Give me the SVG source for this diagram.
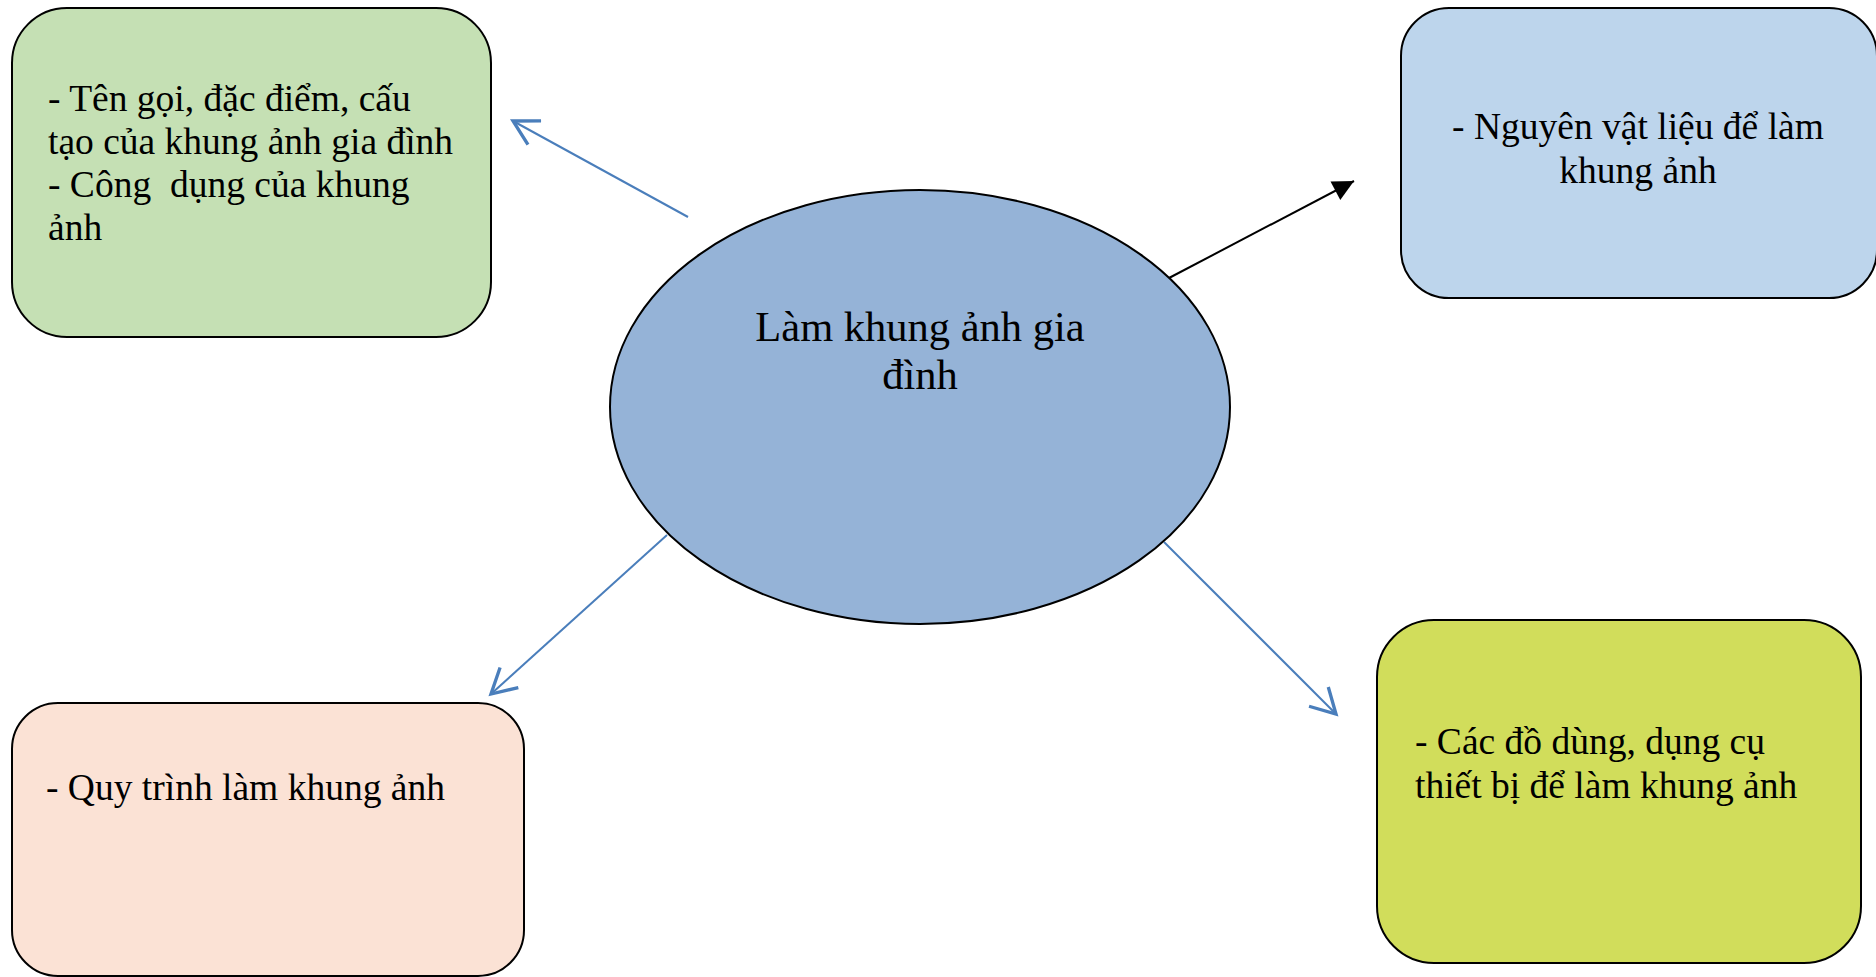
<svg xmlns="http://www.w3.org/2000/svg" width="1876" height="977" viewBox="0 0 1876 977">
<style>
.box{stroke:#000;stroke-width:2}
.t{font-family:"Liberation Serif","Times New Roman",serif;font-size:37.5px;fill:#000}
.c{font-size:42.5px}
.blue{stroke:#4A7EBB;stroke-width:2;fill:none}
.black{stroke:#000;stroke-width:2;fill:none}
</style>
<defs>
<marker id="open" markerUnits="userSpaceOnUse" markerWidth="40" markerHeight="40" viewBox="-25 -15 30 30" refX="0" refY="0" orient="auto">
<path d="M -18.4 -10.2 L 0 0 L -18.4 10.2" fill="none" stroke="#4A7EBB" stroke-width="2.5"/>
</marker>
<marker id="solid" markerUnits="userSpaceOnUse" markerWidth="30" markerHeight="30" viewBox="-16 -10 20 20" refX="0" refY="0" orient="auto">
<path d="M 0 0 L -14 -7 L -14 7 Z" fill="#000"/>
</marker>
</defs>
<rect width="1876" height="977" fill="#fff"/>
<g id="connectors">
<line class="blue" x1="688" y1="217" x2="513" y2="121" marker-end="url(#open)"/>
<line class="black" x1="1169" y1="278" x2="1354" y2="181" marker-end="url(#solid)"/>
<line class="blue" x1="667" y1="535" x2="491" y2="694" marker-end="url(#open)"/>
<line class="blue" x1="1164" y1="542" x2="1336" y2="714" marker-end="url(#open)"/>
</g>
<g id="node-center">
<ellipse cx="920" cy="407" rx="310" ry="217" fill="#95B3D7" stroke="#000" stroke-width="2"/>
<text class="t c" x="920" y="341" text-anchor="middle">Làm khung ảnh gia</text>
<text class="t c" x="920" y="389" text-anchor="middle">đình</text>
</g>
<g id="node-green">
<rect class="box" x="12" y="8" width="479" height="329" rx="55" ry="55" fill="#C5E0B4"/>
<text class="t" x="48" y="111">- Tên gọi, đặc điểm, cấu</text>
<text class="t" x="48" y="154">tạo của khung ảnh gia đình</text>
<text class="t" x="48" y="197" xml:space="preserve" style="white-space:pre">- Công  dụng của khung</text>
<text class="t" x="48" y="240">ảnh</text>
</g>
<g id="node-blue">
<rect class="box" x="1401" y="8" width="476" height="290" rx="48" ry="48" fill="#BDD5EC"/>
<text class="t" x="1638" y="139" text-anchor="middle">- Nguyên vật liệu để làm</text>
<text class="t" x="1638" y="183" text-anchor="middle">khung ảnh</text>
</g>
<g id="node-peach">
<rect class="box" x="12" y="703" width="512" height="273" rx="46" ry="46" fill="#FBE2D5"/>
<text class="t" x="46" y="800">- Quy trình làm khung ảnh</text>
</g>
<g id="node-yellow">
<rect class="box" x="1377" y="620" width="484" height="343" rx="57" ry="57" fill="#D1DD5B"/>
<text class="t" x="1415" y="754">- Các đồ dùng, dụng cụ</text>
<text class="t" x="1415" y="798">thiết bị để làm khung ảnh</text>
</g>
</svg>
